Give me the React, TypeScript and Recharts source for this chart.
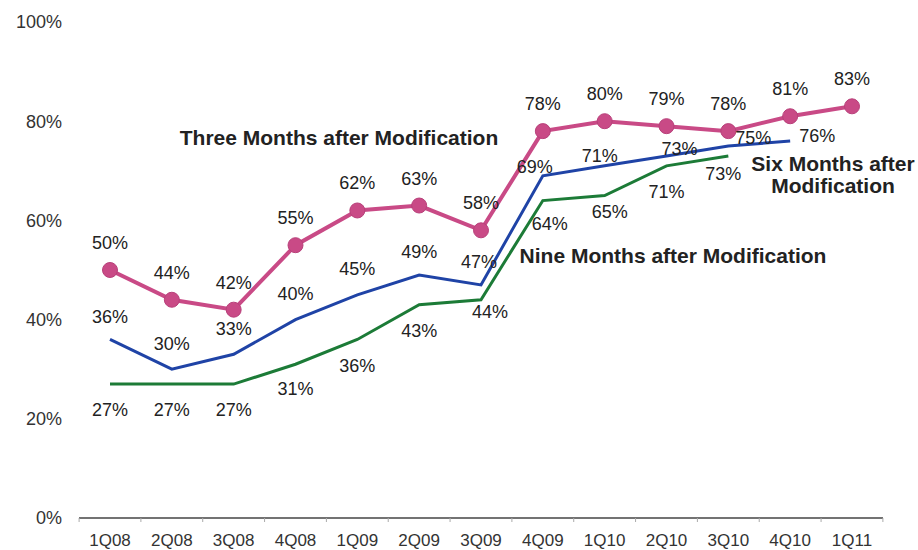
import { LineChart, Line, XAxis, YAxis, LabelList } from "recharts";

const categories = [
  "1Q08", "2Q08", "3Q08", "4Q08", "1Q09", "2Q09", "3Q09",
  "4Q09", "1Q10", "2Q10", "3Q10", "4Q10", "1Q11",
];
const threeMonths = [50, 44, 42, 55, 62, 63, 58, 78, 80, 79, 78, 81, 83];
const sixMonths = [36, 30, 33, 40, 45, 49, 47, 69, 71, 73, 75, 76];
const nineMonths = [27, 27, 27, 31, 36, 43, 44, 64, 65, 71, 73];
const yTicks = [0, 20, 40, 60, 80, 100];

// label nudges [dx, dy] relative to each point
const threeOffsets: [number, number][] = categories.map(() => [0, -27]);
const sixOffsets: [number, number][] = [
  [0, -22], [0, -25], [0, -25], [0, -26], [0, -26], [0, -23], [-2, -23],
  [-8, -9], [-5, -10], [13, -7], [25, -8], [27, -5],
];
const nineOffsets: [number, number][] = [
  [0, 26], [0, 26], [0, 26], [0, 25], [0, 27], [0, 26], [9, 12],
  [7, 23], [5, 16], [0, 26], [-5, 18],
];

const data = categories.map((name, i) => ({
  name,
  three: threeMonths[i],
  six: sixMonths[i],
  nine: nineMonths[i],
}));

const FONT = "'Liberation Sans', Arial, sans-serif";
const PINK = "#c94a86";
const BLUE = "#1f43a6";
const GREEN = "#1c7b37";

const makeLabel = (offsets: [number, number][]) => (props: any) => {
  const { x, y, value, index } = props;
  if (value == null || x == null || y == null) return null;
  const [dx, dy] = offsets[index] ?? [0, 0];
  return (
    <text
      x={x + dx}
      y={y + dy}
      textAnchor="middle"
      dominantBaseline="central"
      fontSize={18}
      fontFamily={FONT}
      fill="#222"
    >
      {value}%
    </text>
  );
};

const XTick = (props: any) => {
  const { x, y, payload, index } = props;
  const half = 30.9;
  return (
    <g>
      <line x1={x + half} x2={x + half} y1={y} y2={y + 4} stroke="#aaa" />
      {index === 0 && (
        <line x1={x - half} x2={x - half} y1={y} y2={y + 4} stroke="#aaa" />
      )}
      <text
        x={x}
        y={y + 22}
        textAnchor="middle"
        dominantBaseline="central"
        fontSize={17}
        fontFamily={FONT}
        fill="#333"
      >
        {payload.value}
      </text>
    </g>
  );
};

const noteStyle = (left: number, top: number): React.CSSProperties => ({
  position: "absolute",
  left,
  top,
  transform: "translate(-50%, -50%)",
  fontFamily: FONT,
  fontWeight: "bold",
  fontSize: 21,
  color: "#222",
  whiteSpace: "nowrap",
  textAlign: "center",
  lineHeight: "22px",
});

export default function App() {
  return (
    <div
      style={{
        position: "absolute",
        left: 0,
        top: 0,
        width: 918,
        height: 550,
        background: "#fff",
      }}
    >
      <LineChart
        width={918}
        height={550}
        data={data}
        margin={{ top: 22, right: 35, left: 0, bottom: 2 }}
      >
        <XAxis
          dataKey="name"
          padding={{ left: 31, right: 31 }}
          axisLine={{ stroke: "#444", strokeWidth: 1.5 }}
          tickLine={false}
          tickSize={0}
          tickMargin={0}
          height={30}
          interval={0}
          tick={<XTick />}
        />
        <YAxis
          width={79}
          domain={[0, 100]}
          ticks={yTicks}
          axisLine={false}
          tickLine={false}
          tickSize={0}
          tickMargin={17}
          tickFormatter={(v) => `${v}%`}
          tick={{ fontSize: 18, fontFamily: FONT, fill: "#333" }}
        />
        <Line
          dataKey="nine"
          stroke={GREEN}
          strokeWidth={3}
          dot={false}
          activeDot={false}
          isAnimationActive={false}
        >
          <LabelList dataKey="nine" content={makeLabel(nineOffsets)} />
        </Line>
        <Line
          dataKey="six"
          stroke={BLUE}
          strokeWidth={3}
          dot={false}
          activeDot={false}
          isAnimationActive={false}
        >
          <LabelList dataKey="six" content={makeLabel(sixOffsets)} />
        </Line>
        <Line
          dataKey="three"
          stroke={PINK}
          strokeWidth={4}
          dot={{ r: 7.5, fill: PINK, stroke: "#b8407a", strokeWidth: 1 }}
          activeDot={false}
          isAnimationActive={false}
        >
          <LabelList dataKey="three" content={makeLabel(threeOffsets)} />
        </Line>
      </LineChart>
      <div style={noteStyle(339, 138)}>Three Months after Modification</div>
      <div style={noteStyle(833, 175)}>
        Six Months after
        <br />
        Modification
      </div>
      <div style={noteStyle(673, 256)}>Nine Months after Modification</div>
    </div>
  );
}
